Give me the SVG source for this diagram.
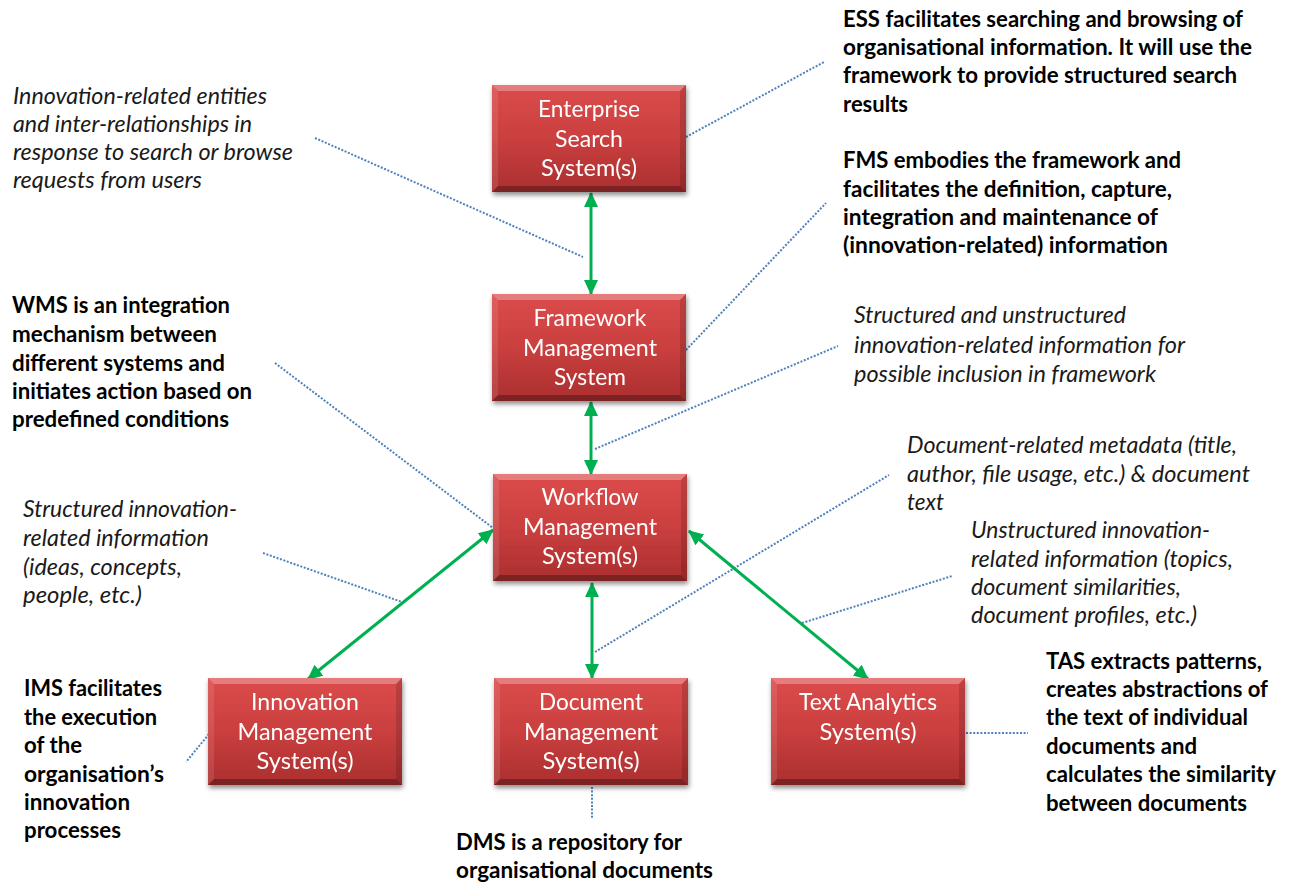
<svg xmlns="http://www.w3.org/2000/svg" width="1289" height="882" viewBox="0 0 1289 882">
<style>
.bt{font-family:Lato,"Liberation Sans",sans-serif;font-size:22.5px;fill:#ffffff;text-anchor:middle}
.d{font-family:Lato,"Liberation Sans",sans-serif;font-size:22.5px;font-weight:bold;fill:#000000}
.n{font-family:Lato,"Liberation Sans",sans-serif;font-size:22.5px;font-style:italic;fill:#1a1a1a}
.g{stroke:#00b050;stroke-width:3;fill:none;marker-start:url(#ah);marker-end:url(#ah)}
.dot{stroke:#4f81bd;stroke-width:2;stroke-dasharray:2 1.6;fill:none}
.face{fill:url(#rg)}
.bl{fill:#ffffff;opacity:0.28}
.bs{fill:#ffffff;opacity:0.1}
.br{fill:#000000;opacity:0.14}
.bb{fill:#000000;opacity:0.28}
</style>
<defs>
<linearGradient id="rg" x1="0" y1="0" x2="0" y2="1">
<stop offset="0" stop-color="#dc4c4c"/>
<stop offset="0.5" stop-color="#ca3f3f"/>
<stop offset="1" stop-color="#ab2f2f"/>
</linearGradient>
<filter id="sh" x="-10%" y="-10%" width="125%" height="130%">
<feDropShadow dx="1" dy="3" stdDeviation="2.5" flood-color="#000" flood-opacity="0.45"/>
</filter>
<marker id="ah" markerUnits="userSpaceOnUse" markerWidth="16" markerHeight="16" viewBox="0 0 16 16" refX="14" refY="8" orient="auto-start-reverse">
<path d="M0,1 L15,8 L0,15 Z" fill="#00b050"/>
</marker>
<g id="box">
<rect class="face" x="0" y="0" width="194" height="107"/>
<polygon class="bl" points="0,0 194,0 188,6 6,6"/>
<polygon class="bs" points="0,0 6,6 6,101 0,107"/>
<polygon class="br" points="194,0 194,107 188,101 188,6"/>
<polygon class="bb" points="0,107 6,101 188,101 194,107"/>
</g>
</defs>
<rect x="0" y="0" width="1289" height="882" fill="#ffffff"/>

<g id="connectors">
<line class="dot" x1="315" y1="138" x2="583" y2="257"/>
<line class="dot" x1="686" y1="137" x2="824" y2="62"/>
<line class="dot" x1="686" y1="350" x2="826" y2="203"/>
<line class="dot" x1="595" y1="449" x2="838" y2="346"/>
<line class="dot" x1="275" y1="363" x2="493" y2="528"/>
<line class="dot" x1="263" y1="553" x2="402" y2="602"/>
<line class="dot" x1="595" y1="652" x2="889" y2="475"/>
<line class="dot" x1="802" y1="623" x2="952" y2="576"/>
<line class="dot" x1="209" y1="734" x2="186" y2="762"/>
<line class="dot" x1="592" y1="787" x2="592" y2="819"/>
<line class="dot" x1="966" y1="733" x2="1028" y2="733"/>
<line class="g" x1="591" y1="193" x2="591" y2="294"/>
<line class="g" x1="591" y1="402" x2="591" y2="474"/>
<line class="g" x1="592" y1="583" x2="592" y2="678"/>
<line class="g" x1="493" y1="530" x2="308" y2="679"/>
<line class="g" x1="689" y1="531" x2="868" y2="679"/>
</g>

<g id="ess" filter="url(#sh)">
<use href="#box" x="492" y="85"/>
<text class="bt" x="589" y="117" textLength="102" lengthAdjust="spacingAndGlyphs">Enterprise</text>
<text class="bt" x="589" y="147" textLength="68" lengthAdjust="spacingAndGlyphs">Search</text>
<text class="bt" x="589" y="176" textLength="96" lengthAdjust="spacingAndGlyphs">System(s)</text>
</g>
<g id="fms" filter="url(#sh)">
<use href="#box" x="492" y="294"/>
<text class="bt" x="590" y="326" textLength="113" lengthAdjust="spacingAndGlyphs">Framework</text>
<text class="bt" x="590" y="356" textLength="134" lengthAdjust="spacingAndGlyphs">Management</text>
<text class="bt" x="590" y="385" textLength="72" lengthAdjust="spacingAndGlyphs">System</text>
</g>
<g id="wms" filter="url(#sh)">
<use href="#box" x="493" y="474"/>
<text class="bt" x="590" y="505" textLength="97" lengthAdjust="spacingAndGlyphs">Workflow</text>
<text class="bt" x="590" y="535" textLength="134" lengthAdjust="spacingAndGlyphs">Management</text>
<text class="bt" x="590" y="564" textLength="96" lengthAdjust="spacingAndGlyphs">System(s)</text>
</g>
<g id="ims" filter="url(#sh)">
<use href="#box" x="208" y="678"/>
<text class="bt" x="305" y="710" textLength="108" lengthAdjust="spacingAndGlyphs">Innovation</text>
<text class="bt" x="305" y="740" textLength="135" lengthAdjust="spacingAndGlyphs">Management</text>
<text class="bt" x="305" y="769" textLength="97" lengthAdjust="spacingAndGlyphs">System(s)</text>
</g>
<g id="dms" filter="url(#sh)">
<use href="#box" x="494" y="678"/>
<text class="bt" x="591" y="710" textLength="104" lengthAdjust="spacingAndGlyphs">Document</text>
<text class="bt" x="591" y="740" textLength="134" lengthAdjust="spacingAndGlyphs">Management</text>
<text class="bt" x="591" y="769" textLength="97" lengthAdjust="spacingAndGlyphs">System(s)</text>
</g>
<g id="tas" filter="url(#sh)">
<use href="#box" x="771" y="678"/>
<text class="bt" x="868" y="710" textLength="138" lengthAdjust="spacingAndGlyphs">Text Analytics</text>
<text class="bt" x="868" y="740" textLength="97" lengthAdjust="spacingAndGlyphs">System(s)</text>
</g>

<g id="note-search">
<text class="n" x="13" y="104" textLength="254" lengthAdjust="spacingAndGlyphs">Innovation-related entities</text>
<text class="n" x="13" y="132" textLength="239" lengthAdjust="spacingAndGlyphs">and inter-relationships in</text>
<text class="n" x="13" y="160" textLength="280" lengthAdjust="spacingAndGlyphs">response to search or browse</text>
<text class="n" x="13" y="188" textLength="189" lengthAdjust="spacingAndGlyphs">requests from users</text>
</g>
<g id="desc-ess">
<text class="d" x="843" y="27" textLength="400" lengthAdjust="spacingAndGlyphs">ESS facilitates searching and browsing of</text>
<text class="d" x="843" y="55" textLength="409" lengthAdjust="spacingAndGlyphs">organisational information. It will use the</text>
<text class="d" x="843" y="83" textLength="394" lengthAdjust="spacingAndGlyphs">framework to provide structured search</text>
<text class="d" x="843" y="112" textLength="65" lengthAdjust="spacingAndGlyphs">results</text>
</g>
<g id="desc-fms">
<text class="d" x="843" y="168" textLength="338" lengthAdjust="spacingAndGlyphs">FMS embodies the framework and</text>
<text class="d" x="843" y="197" textLength="329" lengthAdjust="spacingAndGlyphs">facilitates the definition, capture,</text>
<text class="d" x="843" y="225" textLength="315" lengthAdjust="spacingAndGlyphs">integration and maintenance of</text>
<text class="d" x="843" y="253" textLength="325" lengthAdjust="spacingAndGlyphs">(innovation-related) information</text>
</g>
<g id="desc-wms">
<text class="d" x="12" y="313" textLength="218" lengthAdjust="spacingAndGlyphs">WMS is an integration</text>
<text class="d" x="12" y="342" textLength="205" lengthAdjust="spacingAndGlyphs">mechanism between</text>
<text class="d" x="12" y="371" textLength="213" lengthAdjust="spacingAndGlyphs">different systems and</text>
<text class="d" x="12" y="399" textLength="240" lengthAdjust="spacingAndGlyphs">initiates action based on</text>
<text class="d" x="12" y="427" textLength="217" lengthAdjust="spacingAndGlyphs">predefined conditions</text>
</g>
<g id="note-framework">
<text class="n" x="854" y="323" textLength="272" lengthAdjust="spacingAndGlyphs">Structured and unstructured</text>
<text class="n" x="854" y="353" textLength="331" lengthAdjust="spacingAndGlyphs">innovation-related information for</text>
<text class="n" x="854" y="382" textLength="302" lengthAdjust="spacingAndGlyphs">possible inclusion in framework</text>
</g>
<g id="note-document">
<text class="n" x="907" y="453" textLength="330" lengthAdjust="spacingAndGlyphs">Document-related metadata (title,</text>
<text class="n" x="907" y="482" textLength="343" lengthAdjust="spacingAndGlyphs">author, file usage, etc.) &amp; document</text>
<text class="n" x="907" y="510" textLength="37" lengthAdjust="spacingAndGlyphs">text</text>
</g>
<g id="note-structured">
<text class="n" x="23" y="517" textLength="214" lengthAdjust="spacingAndGlyphs">Structured innovation-</text>
<text class="n" x="23" y="546" textLength="186" lengthAdjust="spacingAndGlyphs">related information</text>
<text class="n" x="23" y="575" textLength="159" lengthAdjust="spacingAndGlyphs">(ideas, concepts,</text>
<text class="n" x="23" y="603" textLength="119" lengthAdjust="spacingAndGlyphs">people, etc.)</text>
</g>
<g id="note-unstructured">
<text class="n" x="971" y="538" textLength="239" lengthAdjust="spacingAndGlyphs">Unstructured innovation-</text>
<text class="n" x="971" y="567" textLength="262" lengthAdjust="spacingAndGlyphs">related information (topics,</text>
<text class="n" x="971" y="595" textLength="210" lengthAdjust="spacingAndGlyphs">document similarities,</text>
<text class="n" x="971" y="623" textLength="226" lengthAdjust="spacingAndGlyphs">document profiles, etc.)</text>
</g>
<g id="desc-ims">
<text class="d" x="24" y="696" textLength="138" lengthAdjust="spacingAndGlyphs">IMS facilitates</text>
<text class="d" x="24" y="725" textLength="133" lengthAdjust="spacingAndGlyphs">the execution</text>
<text class="d" x="24" y="753" textLength="58" lengthAdjust="spacingAndGlyphs">of the</text>
<text class="d" x="24" y="782" textLength="140" lengthAdjust="spacingAndGlyphs">organisation’s</text>
<text class="d" x="24" y="810" textLength="106" lengthAdjust="spacingAndGlyphs">innovation</text>
<text class="d" x="24" y="838" textLength="97" lengthAdjust="spacingAndGlyphs">processes</text>
</g>
<g id="desc-tas">
<text class="d" x="1046" y="669" textLength="216" lengthAdjust="spacingAndGlyphs">TAS extracts patterns,</text>
<text class="d" x="1046" y="697" textLength="222" lengthAdjust="spacingAndGlyphs">creates abstractions of</text>
<text class="d" x="1046" y="725" textLength="202" lengthAdjust="spacingAndGlyphs">the text of individual</text>
<text class="d" x="1046" y="754" textLength="151" lengthAdjust="spacingAndGlyphs">documents and</text>
<text class="d" x="1046" y="782" textLength="230" lengthAdjust="spacingAndGlyphs">calculates the similarity</text>
<text class="d" x="1046" y="811" textLength="201" lengthAdjust="spacingAndGlyphs">between documents</text>
</g>
<g id="desc-dms">
<text class="d" x="456" y="850" textLength="226" lengthAdjust="spacingAndGlyphs">DMS is a repository for</text>
<text class="d" x="456" y="878" textLength="257" lengthAdjust="spacingAndGlyphs">organisational documents</text>
</g>
</svg>
